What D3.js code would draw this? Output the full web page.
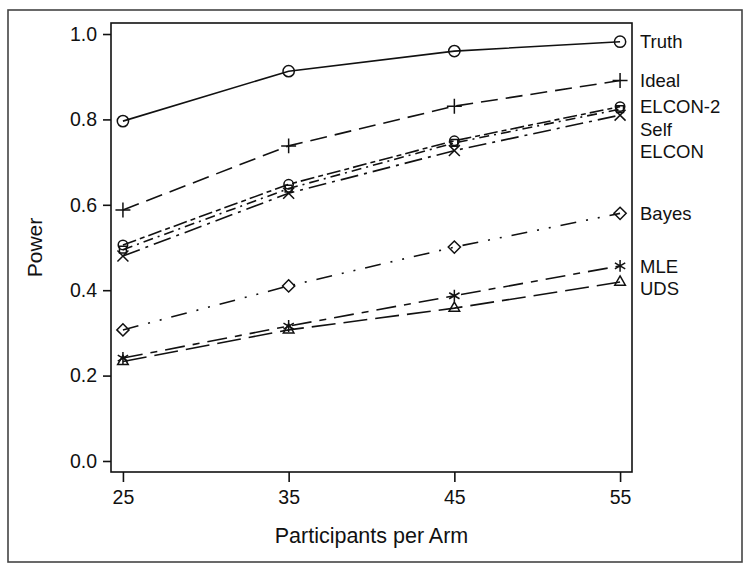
<!DOCTYPE html>
<html>
<head>
<meta charset="utf-8">
<script src="https://cdn.jsdelivr.net/npm/d3@7"></script>
<style>
  body { margin: 0; background: #fff; }
  text { font-family: "Liberation Sans", Arial, sans-serif; fill: #111; }
</style>
</head>
<body>
<svg id="chart" width="750" height="572"></svg>
<script>
"use strict"

// data
let arms = [25, 35, 45, 55];
let yTicks = [0.0, 0.2, 0.4, 0.6, 0.8, 1.0];

let truth   = [0.796, 0.913, 0.960, 0.982];
let ideal   = [0.588, 0.738, 0.831, 0.891];
let elcon2  = [0.506, 0.648, 0.750, 0.830];
let self    = [0.495, 0.638, 0.745, 0.824];
let elcon   = [0.480, 0.627, 0.727, 0.810];
let bayes   = [0.307, 0.410, 0.501, 0.580];
let mle     = [0.241, 0.316, 0.387, 0.457];
let uds     = [0.233, 0.307, 0.358, 0.419];

let seriesNames = ["Truth", "Ideal", "ELCON-2", "Self", "ELCON", "Bayes", "MLE", "UDS"];
let seriesValues = [truth, ideal, elcon2, self, elcon, bayes, mle, uds];

// line / marker styles per series
let dashes = ["none", "17,8", "14,4,5,4", "10,5,2,5", "18,6,3,6", "16,10,2,10,2,10", "20,8,7,8", "24,8"];
let symbols = [d3.symbolCircle, d3.symbolPlus, d3.symbolCircle, d3.symbolSquare2, d3.symbolTimes,
               d3.symbolDiamond2, d3.symbolAsterisk, d3.symbolTriangle2];
let symSizes = [100, 75, 70, 60, 80, 95, 100, 80];

let svg = d3.select("#chart");

// outer frame
svg.append("rect")
    .attr("x", 8).attr("y", 10)
    .attr("width", 734).attr("height", 552)
    .attr("fill", "none")
    .attr("stroke", "#444")
    .attr("stroke-width", 1.6);

let plot = { left: 111, top: 23, right: 632, bottom: 472 };

let x = d3.scaleLinear()
    .domain([24.28, 55.72])
    .range([plot.left, plot.right]);

let y = d3.scaleLinear()
    .domain([-0.0258, 1.0258])
    .range([plot.bottom, plot.top]);

// axes
let xAxis = svg.append("g")
    .attr("transform", "translate(0," + plot.bottom + ")")
    .call(d3.axisBottom(x).tickValues(arms).tickSize(10).tickPadding(8).tickFormat(d3.format("d")));

let yAxis = svg.append("g")
    .attr("transform", "translate(" + plot.left + ",0)")
    .call(d3.axisLeft(y).tickValues(yTicks).tickSize(8).tickPadding(6).tickFormat(d3.format(".1f")));

[xAxis, yAxis].forEach(function (g) {
    g.select(".domain").remove();
    g.selectAll("line").attr("stroke", "#111").attr("stroke-width", 1.6);
    g.selectAll("text").attr("font-size", 19.5).attr("fill", "#111")
        .attr("font-family", "'Liberation Sans', Arial, sans-serif");
});

// plot frame
svg.append("rect")
    .attr("x", plot.left).attr("y", plot.top)
    .attr("width", plot.right - plot.left).attr("height", plot.bottom - plot.top)
    .attr("fill", "none")
    .attr("stroke", "#111")
    .attr("stroke-width", 1.6);

// axis titles
svg.append("text")
    .attr("x", (plot.left + plot.right) / 2)
    .attr("y", 543)
    .attr("text-anchor", "middle")
    .attr("font-size", 21.5)
    .text("Participants per Arm");

svg.append("text")
    .attr("transform", "translate(42," + (plot.top + plot.bottom) / 2 + ") rotate(-90)")
    .attr("text-anchor", "middle")
    .attr("font-size", 21)
    .text("Power");

// series
let line = d3.line()
    .x(function (d, i) { return x(arms[i]); })
    .y(function (d) { return y(d); });

seriesValues.forEach(function (vals, s) {
    svg.append("path")
        .attr("d", line(vals))
        .attr("fill", "none")
        .attr("stroke", "#111")
        .attr("stroke-width", 1.6)
        .attr("stroke-dasharray", dashes[s]);

    let sym = d3.symbol().type(symbols[s]).size(symSizes[s]);
    svg.selectAll(null)
        .data(vals)
        .enter().append("path")
        .attr("transform", function (d, i) {
            return "translate(" + x(arms[i]) + "," + y(d) + ")";
        })
        .attr("d", sym)
        .attr("fill", "none")
        .attr("stroke", "#111")
        .attr("stroke-width", 1.5);
});

// end labels, pushed apart so they do not overlap
let labelY = seriesValues.map(function (v) { return y(v[v.length - 1]); });
for (let i = 1; i < labelY.length; i++) {
    if (labelY[i] - labelY[i - 1] < 22.5) labelY[i] = labelY[i - 1] + 22.5;
}

svg.selectAll(".endlabel")
    .data(seriesNames)
    .enter().append("text")
    .attr("class", "endlabel")
    .attr("x", 640)
    .attr("y", function (d, i) { return labelY[i]; })
    .attr("dy", "0.36em")
    .attr("font-size", 18.5)
    .text(function (d) { return d; });
</script>
</body>
</html>
